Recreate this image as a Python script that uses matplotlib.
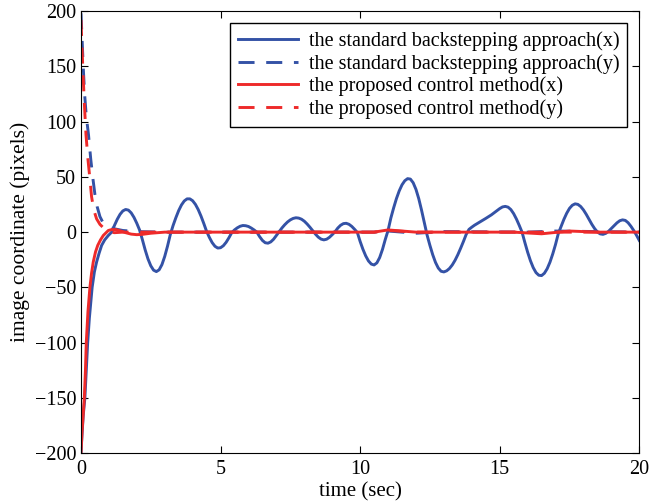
import matplotlib.pyplot as plt

# values (time in sec, coordinate in pixels)

# standard backstepping, x
bs_x_t = [0, 0.04, 0.08, 0.14, 0.19, 0.24, 0.3, 0.4, 0.48, 0.56, 0.65, 0.74, 0.85, 0.98, 1.1,
          1.2, 1.3, 1.4, 1.5, 1.6, 1.7, 1.8, 1.9, 2.0, 2.1, 2.2, 2.3, 2.4, 2.5, 2.6, 2.7,
          2.8, 2.9, 3.0, 3.1, 3.2, 3.3, 3.4, 3.5, 3.6, 3.7, 3.8, 3.9, 4.0, 4.1, 4.2, 4.3,
          4.4, 4.5, 4.6, 4.7, 4.8, 4.9, 5.0, 5.1, 5.2, 5.3, 5.4, 5.5, 5.6, 5.7, 5.8, 5.9,
          6.0, 6.1, 6.2, 6.3, 6.4, 6.5, 6.6, 6.7, 6.8, 6.9, 7.0, 7.1, 7.2, 7.3, 7.4, 7.5,
          7.6, 7.7, 7.8, 7.9, 8.0, 8.1, 8.2, 8.3, 8.4, 8.5, 8.6, 8.7, 8.8, 8.9, 9.0, 9.1,
          9.2, 9.3, 9.4, 9.5, 9.6, 9.7, 9.8, 9.9, 10.0, 10.1, 10.2, 10.3, 10.4, 10.5, 10.6,
          10.7, 10.8, 10.9, 11.0, 11.1, 11.2, 11.3, 11.4, 11.5, 11.6, 11.7, 11.8, 11.9, 12.0,
          12.1, 12.2, 12.3, 12.4, 12.5, 12.6, 12.7, 12.8, 12.9, 13.0, 13.1, 13.2, 13.3, 13.4,
          13.5, 13.6, 13.7, 13.8, 13.9, 14.0, 14.1, 14.2, 14.3, 14.4, 14.5, 14.6, 14.7, 14.8,
          14.9, 15.0, 15.1, 15.2, 15.3, 15.4, 15.5, 15.6, 15.7, 15.8, 15.9, 16.0, 16.1, 16.2,
          16.3, 16.4, 16.5, 16.6, 16.7, 16.8, 16.9, 17.0, 17.1, 17.2, 17.3, 17.4, 17.5, 17.6,
          17.7, 17.8, 17.9, 18.0, 18.1, 18.2, 18.3, 18.4, 18.5, 18.6, 18.7, 18.8, 18.9, 19.0,
          19.1, 19.2, 19.3, 19.4, 19.5, 19.6, 19.7, 19.8, 19.9, 20.0]
bs_x = [-200, -182, -166, -150, -125, -100, -78, -50, -36, -27, -19, -12, -7, -3, 0,
        6.1, 11.6, 16.1, 19.2, 20.5, 19.9, 17.4, 13.3, 8, 1.9, -6.8, -16.1, -24.2, -30.4, -34.4, -35.7,
        -34.1, -29.4, -22, -12.7, -2.2, 6, 13.1, 19.5, 24.6, 28.2, 30.1, 30.1, 28.4, 25.1, 20.4, 14.5,
        7.8, 0.7, -4.8, -9.5, -12.8, -14.4, -14.1, -12.3, -9.2, -5.1, -0.5, 2, 3.9, 5.3, 6, 5.8,
        5.1, 3.7, 2, 0, -4.1, -7.5, -9.6, -10, -8.8, -6.4, -3, 0.3, 3.8, 6.7, 9.2, 11.1,
        12.4, 13, 12.7, 11.7, 9.9, 7.4, 4.5, 1.3, -1.8, -4.5, -6.3, -7, -6.4, -4.7, -2.3, 0.3,
        3.7, 6.2, 7.7, 8, 7.1, 5.2, 2.6, -0.3, -8.4, -15.5, -21.5, -26.1, -28.9, -29.7, -27.8,
        -23, -15.7, -6.7, 1.5, 12.7, 21.9, 30.3, 37.3, 42.8, 46.5, 48.4, 48, 44.7, 38.7,
        30.3, 19.9, 8.4, -2.8, -12, -20.4, -27.4, -32.5, -35.4, -36, -35, -32.9, -29.7, -25.5,
        -20.4, -14.6, -8.5, -2, 2.5, 4.5, 6.3, 7.8, 9.3, 10.8, 12.4, 14, 15.6, 17.5,
        19.5, 21.3, 22.8, 23.3, 22.6, 20.4, 16.7, 11.8, 6.1, 0, -9.3, -18.1, -25.8, -32.1,
        -36.6, -39, -39.3, -37.2, -33.1, -27.2, -19.7, -11.1, -1.2, 5.3, 11.6, 17.1, 21.5, 24.3,
        25.6, 25.1, 23.2, 20.1, 16.1, 11.6, 7.1, 3.2, 0.1, -1.6, -2, -1.1, 0.8, 3.3,
        5.9, 8.4, 10.3, 11.1, 10.6, 8.5, 5.3, 1.5, -2.8, -7.5]

# standard backstepping, y
bs_y_t = [0, 0.04, 0.08, 0.13, 0.19, 0.27, 0.35, 0.43, 0.5, 0.58, 0.68, 0.8, 0.95, 1.2, 1.5,
          2.0, 3.0, 5.0, 10.5, 11.0, 12.0, 13.0, 16.0, 17.0, 20]
bs_y = [198, 175, 150, 125, 105, 88, 66, 48, 34, 23, 14, 8, 5, 3, 1.5,
        0.5, 0, 0, 0, 1, -1, 0.5, 0, 1, 0]

# proposed control, x
pc_x_t = [0, 0.04, 0.08, 0.12, 0.16, 0.19, 0.25, 0.32, 0.38, 0.44, 0.52, 0.6, 0.7, 0.8, 0.9,
          0.98, 1.1, 1.25, 1.4, 1.6, 1.8, 2.0, 2.2, 2.5, 3.0, 10.5, 11.0, 11.5, 12.0, 15.5,
          16.5, 17.5, 18.5, 20]
pc_x = [-200, -180, -165, -150, -125, -100, -72, -50, -37, -27, -18, -12, -7, -3, -0.5,
        1.5, 2.3, 2.3, 1.2, -0.5, -1.8, -2.3, -2, -1, 0, 0, 2, 1, 0, 0,
        -1.5, 1, 0, 0]

# proposed control, y
pc_y_t = [0, 0.04, 0.08, 0.13, 0.18, 0.25, 0.32, 0.38, 0.46, 0.56, 0.68, 0.8, 0.9, 1.0, 1.2,
          1.5, 10.5, 11.0, 12.0, 20]
pc_y = [192, 165, 140, 112, 88, 66, 48, 32, 20, 12, 7, 4, 2, 0.5, -0.5,
        0, 0, 1.5, 0, 0]

blue = '#3452a6'
red = '#ee2a2a'

plt.rcParams['font.family'] = ['Liberation Serif', 'DejaVu Serif']
plt.rcParams['font.size'] = 14.5

fig = plt.figure(figsize=(6.53, 5.03), dpi=100)
ax = fig.add_axes([0.124, 0.099, 0.855, 0.879])

ax.plot(bs_x_t, bs_x, color=blue, lw=2.1, label='the standard backstepping approach(x)')
ax.plot(bs_y_t, bs_y, color=blue, lw=2.1, ls=(0, (5.5, 4)), label='the standard backstepping approach(y)')
ax.plot(pc_x_t, pc_x, color=red, lw=2.1, label='the proposed control method(x)')
ax.plot(pc_y_t, pc_y, color=red, lw=2.1, ls=(0, (5.5, 4)), label='the proposed control method(y)')

ax.set_xlim(0, 20)
ax.set_ylim(-200, 200)
ax.set_xticks([0, 5, 10, 15, 20])
ax.set_yticks(range(-200, 201, 50))
ax.tick_params(direction='in', top=True, right=True, length=5)
ax.tick_params(axis='x', pad=5)
ax.set_xlabel('time (sec)', labelpad=2, fontsize=15)
ax.set_ylabel('image coordinate (pixels)', labelpad=3, fontsize=15.5)

leg = ax.legend(loc='upper right', fancybox=False, framealpha=1, edgecolor='black',
                handlelength=3, borderaxespad=0.6, labelspacing=0.15, handletextpad=0.5)
leg.get_frame().set_linewidth(1)

fig.savefig('out.png', dpi=100)
